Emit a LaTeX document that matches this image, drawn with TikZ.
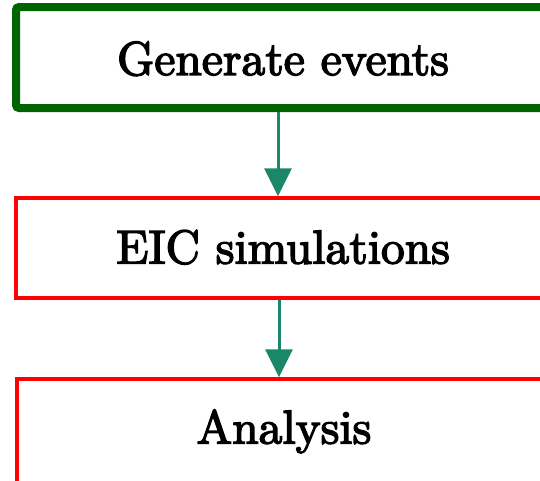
\documentclass[tikz,border=0pt]{standalone}
\usetikzlibrary{arrows.meta}
\definecolor{stepgreen}{HTML}{006400}
\definecolor{flowteal}{HTML}{1B876A}
% large label text, slightly emboldened by stroking the glyph outlines
\newcommand\bigtxt[1]{\scalebox{4.75}{\special{pdf:literal direct 2 Tr 0.3 w}#1\special{pdf:literal direct 0 Tr}}}
\tikzset{
  stagebox/.style={draw, rectangle, minimum width=534pt, minimum height=100pt,
    inner sep=0pt, text depth=0pt, fill=white},
  firstbox/.style={stagebox, draw=stepgreen, line width=8pt, rounded corners=3pt,
    minimum height=101pt},
  laterbox/.style={stagebox, draw=red, line width=3.5pt},
  flow/.style={draw=flowteal, line width=3pt,
    -{Triangle[width=27pt,length=28pt,fill=flowteal]}}
}
\begin{document}
\begin{tikzpicture}[x=1pt,y=-1pt]
  \useasboundingbox (0,0) rectangle (540,480);
  \node[firstbox, text height=35pt] (gen) at (283,57.5) {\bigtxt{Generate events}};
  \node[laterbox, text height=31pt] (sim) at (283,248) {\bigtxt{EIC simulations}};
  \node[laterbox, text height=19pt, minimum height=110pt] (ana) at (284,434) {\bigtxt{Analysis}};
  \draw[flow] ([xshift=-5pt]gen.south) -- ([xshift=-5pt]sim.north);
  \draw[flow] ([xshift=-4pt]sim.south) -- ([xshift=-5pt]ana.north);
\end{tikzpicture}
\end{document}
